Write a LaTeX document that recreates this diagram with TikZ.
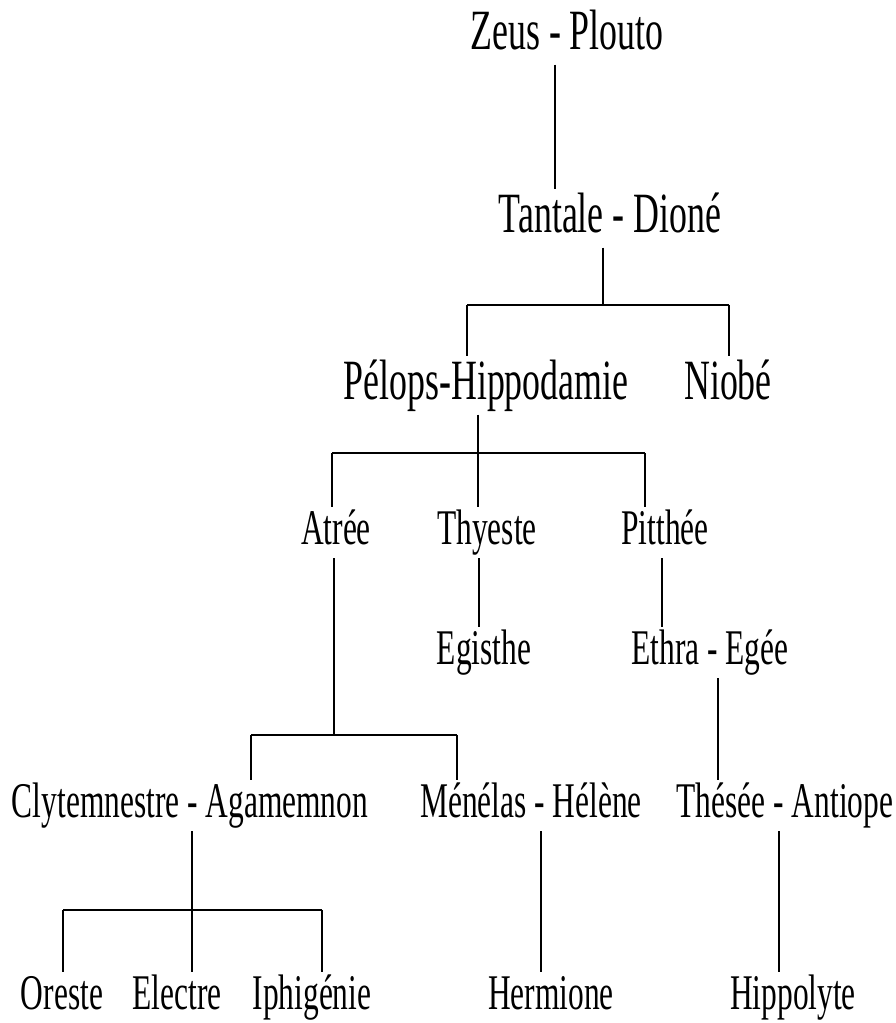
\documentclass[tikz,border=0pt]{standalone}
\usepackage{fontspec}
\setmainfont{Liberation Serif}[FakeStretch=0.63]
\usetikzlibrary{positioning}

\begin{document}
\begin{tikzpicture}[
    pers/.style={anchor=base, inner sep=0pt, text height=0.375cm, text depth=0.125cm,
      font=\fontsize{14.2}{16}\selectfont},
    ancien/.style={pers, text height=0.43cm, text depth=0.14cm,
      font=\fontsize{16.2}{18}\selectfont},
    lien/.style={line width=0.4pt},
    barre/.style={line width=0.8pt}]

  \useasboundingbox (0,0) rectangle (8.95,10.23);

  % --- 1. les noms (par génération) ---
  \node[ancien] (zeus)    at (5.67, 9.73) {Zeus - Plouto};
  \node[ancien] (tantale) at (6.10, 7.90) {Tantale - Dioné};
  \node[ancien] (pelops)  at (4.86, 6.23) {Pélops-Hippodamie};
  \node[ancien] (niobe)   at (7.28, 6.23) {Niobé};

  \node[pers] (atree)   at (3.36, 4.78) {Atrée};
  \node[pers] (thyeste) at (4.87, 4.78) {Thyeste};
  \node[pers] (pitthee) at (6.65, 4.78) {Pitthée};

  \node[pers] (egisthe) at (4.84, 3.58) {Egisthe};
  \node[pers] (ethra)   at (7.10, 3.58) {Ethra - Egée};

  \node[pers] (clyt)    at (1.90, 2.05) {Clytemnestre - Agamemnon};
  \node[pers] (menelas) at (5.31, 2.05) {Ménélas - Hélène};
  \node[pers] (thesee)  at (7.85, 2.05) {Thésée - Antiope};

  \node[pers] (oreste)    at (0.62, 0.13) {Oreste};
  \node[pers] (electre)   at (1.77, 0.13) {Electre};
  \node[pers] (iphigenie) at (3.12, 0.13) {Iphigénie};
  \node[pers] (hermione)  at (5.51, 0.13) {Hermione};
  \node[pers] (hippolyte) at (7.93, 0.13) {Hippolyte};

  % --- 2. Zeus -> Tantale -> Pélops, Niobé ---
  \coordinate (zt) at (5.55, 7.18);
  \coordinate (tb) at (6.03, 7.18);
  \coordinate (tl) at (4.67, 7.18);
  \coordinate (tr) at (7.29, 7.18);
  \draw[lien] (zt |- zeus.south) -- (zt |- tantale.north);
  \draw[lien] (tb |- tantale.south) -- (tb);
  \draw[barre] (tl) -- (tr);
  \draw[lien] (tl) -- (tl |- pelops.north);
  \draw[lien] (tr) -- (tr |- niobe.north);

  % --- 3. Pélops -> Atrée, Thyeste, Pitthée ---
  \coordinate (pb) at (4.78, 5.70);
  \coordinate (pl) at (3.32, 5.70);
  \coordinate (pr) at (6.45, 5.70);
  \draw[lien] (pb |- pelops.south) -- (pb |- thyeste.north);
  \draw[barre] (pl) -- (pr);
  \draw[lien] (pl) -- (pl |- atree.north);
  \draw[lien] (pr) -- (pr |- pitthee.north);

  % --- 4. Thyeste, Pitthée, Ethra ---
  \coordinate (th) at (4.79, 0);
  \coordinate (pi) at (6.62, 0);
  \coordinate (et) at (7.18, 0);
  \draw[lien] (th |- thyeste.south) -- (th |- egisthe.north);
  \draw[lien] (pi |- pitthee.south) -- (pi |- ethra.north);
  \draw[lien] (et |- ethra.south) -- (et |- thesee.north);

  % --- 5. Atrée -> Agamemnon, Ménélas ---
  \coordinate (ab) at (3.34, 2.88);
  \coordinate (al) at (2.51, 2.88);
  \coordinate (ar) at (4.57, 2.88);
  \draw[lien] (ab |- atree.south) -- (ab);
  \draw[barre] (al) -- (ar);
  \draw[lien] (al) -- (al |- clyt.north);
  \draw[lien] (ar) -- (ar |- menelas.north);

  % --- 6. les enfants d'Agamemnon ---
  \coordinate (cb) at (1.92, 1.13);
  \coordinate (cl) at (0.63, 1.13);
  \coordinate (cr) at (3.22, 1.13);
  \draw[lien] (cb |- clyt.south) -- (cb |- electre.north);
  \draw[barre] (cl) -- (cr);
  \draw[lien] (cl) -- (cl |- oreste.north);
  \draw[lien] (cr) -- (cr |- iphigenie.north);

  % --- 7. Hermione, Hippolyte ---
  \coordinate (mh) at (5.41, 0);
  \coordinate (ta) at (7.79, 0);
  \draw[lien] (mh |- menelas.south) -- (mh |- hermione.north);
  \draw[lien] (ta |- thesee.south) -- (ta |- hippolyte.north);

\end{tikzpicture}
\end{document}
